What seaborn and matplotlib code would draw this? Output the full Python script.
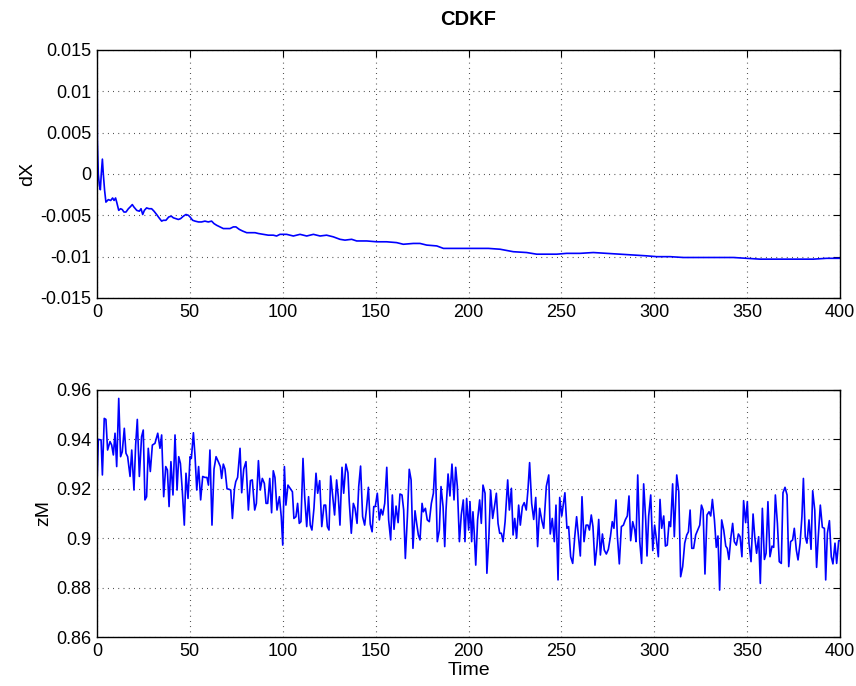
import numpy as np
import pandas as pd
import matplotlib
matplotlib.use("Agg")
import matplotlib.pyplot as plt
import seaborn as sns

# ---------------- data: dX (top) ----------------
dx_time_a = [0, 0.2, 0.7, 1.3, 1.8, 2.3, 2.9, 3.4, 4.1, 4.8,
             6.1, 7.4, 8.4, 9.2, 10.0, 10.6, 11.7, 12.7, 13.6, 14.5,
             15.6, 16.9, 17.8, 19.0, 19.9, 21.4, 22.8, 23.7, 24.6, 25.5,
             26.7, 28.0, 29.4, 30.7, 32.1, 33.4, 34.8, 35.7, 37.1, 38.6,
             40.0, 41.1, 42.5, 43.8, 45.0, 46.5, 47.9, 49.2, 50.1, 51.5,
             52.8, 54.6, 56.3, 58.1, 59.9, 61.7, 63.0, 64.4, 66.2, 68.0,
             69.8, 71.6, 73.4, 74.8, 76.6, 78.4, 80.6, 82.4, 85.1, 86.9,
             89.6, 92.2, 94.9, 96.7, 98.5]
dx_vals_a = [0.0144, 0.0041, 0.0, -0.0014, -0.0019, 0.0, 0.0018, 0.0, -0.0020, -0.0034,
             -0.0031, -0.0032, -0.0029, -0.0032, -0.0029, -0.0034, -0.0044, -0.0042, -0.0043, -0.0046,
             -0.0046, -0.0042, -0.0040, -0.0037, -0.0040, -0.0044, -0.0045, -0.0042, -0.0049, -0.0044,
             -0.0041, -0.0042, -0.0042, -0.0045, -0.0049, -0.0053, -0.0057, -0.0056, -0.0056, -0.0052,
             -0.0051, -0.0053, -0.0054, -0.0055, -0.0054, -0.0051, -0.0049, -0.0050, -0.0052, -0.0056,
             -0.0057, -0.0058, -0.0058, -0.0057, -0.0058, -0.0057, -0.0060, -0.0062, -0.0064, -0.0066,
             -0.0066, -0.0066, -0.0064, -0.0064, -0.0067, -0.0069, -0.0071, -0.0071, -0.0071, -0.0072,
             -0.0073, -0.0074, -0.0074, -0.0075, -0.0073]
dx_time_b = [102.1, 105.7, 109.3, 112.9, 116.5, 120.1, 123.6, 127.2, 130.8, 133.5,
             137.1, 139.8, 145.2, 150.6, 155.9, 161.3, 164.9, 170.3, 173.9, 177.5,
             182.9, 186.5, 191.8, 197.2, 201.7, 206.2, 210.7, 217.0, 224.1, 231.3,
             236.7, 242.1, 247.5, 252.8, 260.0, 267.2, 274.4, 281.6, 288.7, 295.9,
             301.3, 308.5, 315.7, 324.6, 333.6, 342.6, 349.8, 356.9, 364.1, 371.3,
             378.5, 385.7, 392.8, 400.0]
dx_vals_b = [-0.0073, -0.0075, -0.0073, -0.0075, -0.0073, -0.0075, -0.0074, -0.0076, -0.0079, -0.0080,
             -0.0079, -0.0081, -0.0081, -0.0082, -0.0082, -0.0083, -0.0085, -0.0084, -0.0084, -0.0086,
             -0.0087, -0.0090, -0.0090, -0.0090, -0.0090, -0.0090, -0.0090, -0.0091, -0.0094, -0.0095,
             -0.0097, -0.0097, -0.0097, -0.0096, -0.0096, -0.0095, -0.0096, -0.0097, -0.0098, -0.0099,
             -0.0100, -0.0100, -0.0101, -0.0101, -0.0101, -0.0101, -0.0102, -0.0103, -0.0103, -0.0103,
             -0.0103, -0.0103, -0.0102, -0.0102]

# ---------------- data: zM (bottom) ----------------
zm_t1 = [0, 0.7, 2.2, 2.9, 3.9, 4.8, 5.7, 7.0, 7.9, 8.8,
         9.7, 10.6, 11.7, 12.7, 13.6, 14.7, 15.6, 16.5, 17.8, 18.7,
         19.9, 20.8, 21.7, 22.8, 24.0, 24.9, 25.8, 26.7, 27.6, 28.7,
         29.8, 31.2, 32.7, 33.9, 34.8, 35.9, 37.0, 37.9, 38.8, 39.8,
         40.9, 42.0, 43.1, 44.0, 44.9, 45.9, 47.0, 47.9, 49.0, 50.1,
         50.8, 51.9]
zm_v1 = [0.9215, 0.940, 0.9398, 0.9256, 0.9485, 0.9481, 0.9357, 0.9391, 0.9377, 0.9337,
         0.9425, 0.929, 0.9566, 0.933, 0.935, 0.9445, 0.9344, 0.933, 0.925, 0.9357,
         0.9195, 0.9377, 0.9481, 0.925, 0.9411, 0.9438, 0.9155, 0.9168, 0.9364, 0.927,
         0.9377, 0.9384, 0.9425, 0.9364, 0.9418, 0.9168, 0.929, 0.9276, 0.9128, 0.931,
         0.9175, 0.9418, 0.9195, 0.933, 0.9303, 0.9195, 0.9053, 0.9263, 0.9161, 0.933,
         0.9323, 0.9427]
zm_t2 = [52.8, 53.7, 54.7, 55.8, 56.9, 58.1, 59.2, 60.0, 60.8, 61.9,
         63.0, 64.1, 65.3, 66.4, 67.1, 68.0, 68.9, 70.0, 71.1, 72.0,
         72.9, 74.0, 74.7, 75.7, 77.0, 77.9, 79.0, 80.2, 81.5, 82.6,
         83.6, 84.9, 85.8, 86.9, 87.9, 89.0, 90.1, 91.0, 91.9, 93.0,
         94.0, 94.9, 95.8, 96.9, 98.2, 99.2, 100.0, 100.9]
zm_v2 = [0.933, 0.9195, 0.929, 0.9155, 0.925, 0.9246, 0.9246, 0.9215, 0.9357, 0.9053,
         0.928, 0.933, 0.931, 0.929, 0.9242, 0.930, 0.928, 0.920, 0.9198, 0.9195,
         0.908, 0.920, 0.9229, 0.9246, 0.9364, 0.9184, 0.928, 0.931, 0.9114, 0.9233,
         0.9236, 0.9114, 0.9141, 0.9314, 0.9195, 0.9242, 0.9222, 0.9141, 0.9141, 0.9242,
         0.9103, 0.9273, 0.9246, 0.9114, 0.9168, 0.9087, 0.8972, 0.929]
zm_t3 = [101.7, 102.8, 104.1, 105.2, 106.0, 107.1, 108.0, 108.9, 109.8, 110.9,
         111.8, 112.9, 113.9, 114.8, 115.7, 116.8, 117.9, 118.8, 119.9, 121.0,
         122.2, 123.1, 124.0, 124.9, 125.8, 126.9, 127.9, 129.0, 129.9, 130.8,
         131.9, 132.8, 134.0, 135.1, 135.8, 136.9, 138.0, 138.9, 140.0, 140.9,
         141.9, 143.0, 144.1, 145.0, 146.1, 147.1, 148.1, 149.0, 149.8, 150.9]
zm_v3 = [0.9134, 0.9215, 0.920, 0.9188, 0.908, 0.9087, 0.9141, 0.906, 0.9067, 0.9323,
         0.9168, 0.9047, 0.9168, 0.9053, 0.9033, 0.9121, 0.9263, 0.9182, 0.9233, 0.9047,
         0.9134, 0.9134, 0.9047, 0.9033, 0.9252, 0.9168, 0.9094, 0.9236, 0.9168, 0.9053,
         0.9287, 0.9182, 0.930, 0.9265, 0.9148, 0.902, 0.9141, 0.9121, 0.906, 0.9209,
         0.9292, 0.9087, 0.9053, 0.9114, 0.9206, 0.9057, 0.9026, 0.9128, 0.9128, 0.9182]
zm_t4 = [152.0, 152.9, 153.8, 154.9, 156.0, 157.0, 158.1, 159.0, 159.9, 161.0,
         162.1, 163.1, 164.2, 165.1, 166.0, 167.1, 168.1, 169.1, 170.1, 171.2,
         172.1, 173.0, 173.9, 175.0, 175.7, 176.8, 177.8, 178.9, 180.0, 181.1,
         182.1, 183.2, 184.3, 185.2, 186.3, 187.2, 187.9, 189.0, 190.0, 191.1,
         192.2, 193.1, 194.0, 195.1, 196.1, 197.2, 198.1, 199.0, 200.1, 200.8]
zm_v4 = [0.9074, 0.9117, 0.9094, 0.9141, 0.9287, 0.9074, 0.8993, 0.9175, 0.9036, 0.913,
         0.9063, 0.9179, 0.9175, 0.9114, 0.8918, 0.9087, 0.9279, 0.9236, 0.8959, 0.9111,
         0.906, 0.9013, 0.8993, 0.9141, 0.9107, 0.9121, 0.9074, 0.9067, 0.9141, 0.9182,
         0.9323, 0.8986, 0.9033, 0.9209, 0.9128, 0.8966, 0.9114, 0.926, 0.9171, 0.930,
         0.9155, 0.9287, 0.9209, 0.8986, 0.9094, 0.9155, 0.8986, 0.9161, 0.9033, 0.9148]
zm_t5 = [201.7, 202.4, 203.1, 203.9, 204.9, 206.0, 206.9, 207.8, 208.9, 209.9,
         211.0, 211.9, 213.0, 214.1, 215.0, 215.9, 216.8, 217.7, 218.6, 219.7,
         221.1, 222.0, 223.1, 224.0, 224.9, 225.9, 227.0, 227.9, 229.0, 230.0,
         231.1, 232.0, 232.9, 234.0, 235.1, 236.2, 237.2, 238.3, 239.6, 240.5,
         241.9, 243.2, 244.0, 245.1, 246.2, 247.1, 248.2, 249.1, 250.2]
zm_v5 = [0.8986, 0.9107, 0.902, 0.8891, 0.9074, 0.9155, 0.906, 0.9215, 0.9182, 0.8858,
         0.9013, 0.9195, 0.908, 0.9134, 0.9182, 0.906, 0.902, 0.902, 0.8986, 0.9067,
         0.9236, 0.9114, 0.9202, 0.9013, 0.908, 0.9, 0.9134, 0.9053, 0.9128, 0.9144,
         0.9114, 0.9195, 0.9306, 0.9141, 0.9076, 0.9165, 0.8966, 0.9121, 0.9067, 0.904,
         0.921, 0.9256, 0.9017, 0.908, 0.8986, 0.9134, 0.8831, 0.9165, 0.909]
zm_t6 = [251.9, 253.0, 253.9, 255.0, 256.1, 257.2, 258.2, 259.3, 260.2, 261.1,
         262.2, 263.3, 264.3, 265.1, 266.1, 267.0, 268.1, 269.2, 270.1, 271.0,
         272.1, 273.1, 274.2, 275.3, 276.4, 277.4, 278.3, 279.4, 280.1, 281.2,
         282.3, 283.4, 284.4, 285.5, 286.4, 287.3, 288.4, 289.5, 290.2, 291.1,
         292.2, 293.2, 294.3, 295.4, 296.1, 297.0, 298.1, 299.2, 300.2]
zm_v6 = [0.9184, 0.904, 0.9047, 0.8925, 0.8898, 0.9006, 0.9087, 0.9, 0.8928, 0.9168,
         0.8986, 0.9053, 0.9053, 0.9033, 0.9094, 0.9047, 0.8891, 0.8972, 0.9076, 0.8932,
         0.9017, 0.8952, 0.8936, 0.8955, 0.9006, 0.9067, 0.904, 0.9155, 0.9013, 0.8896,
         0.9047, 0.9053, 0.9074, 0.909, 0.9171, 0.899, 0.9067, 0.9033, 0.8986, 0.9256,
         0.8986, 0.8898, 0.922, 0.9074, 0.8928, 0.909, 0.9175, 0.895, 0.9053]
zm_t7 = [301.1, 302.2, 303.1, 304.0, 305.1, 306.0, 307.0, 308.0, 308.8, 309.9,
         310.8, 312.1, 313.2, 314.2, 315.3, 316.4, 317.5, 318.4, 319.3, 320.2,
         321.2, 322.3, 323.4, 324.5, 325.4, 326.3, 327.3, 328.4, 329.5, 330.4,
         331.3, 332.4, 333.4, 334.3, 335.2, 336.3, 337.4, 338.5, 339.3, 340.2,
         341.3, 342.2, 343.1, 344.2, 345.3, 346.2, 347.2, 348.1, 349.2, 350.1,
         351.0]
zm_v7 = [0.9, 0.8925, 0.9157, 0.904, 0.909, 0.8968, 0.8972, 0.9067, 0.9047, 0.922,
         0.9006, 0.9256, 0.9188, 0.8844, 0.8885, 0.898, 0.9013, 0.9026, 0.9114, 0.8959,
         0.8959, 0.9013, 0.9033, 0.9053, 0.9134, 0.9114, 0.8855, 0.9094, 0.9107, 0.909,
         0.9157, 0.9074, 0.8963, 0.9009, 0.879, 0.9074, 0.9033, 0.8968, 0.8959, 0.8914,
         0.9006, 0.906, 0.8986, 0.8972, 0.9017, 0.9006, 0.8925, 0.9152, 0.9063, 0.9148,
         0.898]
zm_t8 = [352.1, 353.2, 354.1, 355.1, 356.2, 357.1, 358.2, 359.3, 360.2, 361.2,
         362.3, 363.4, 364.3, 365.2, 366.3, 367.3, 368.4, 369.3, 370.4, 371.5,
         372.4, 373.4, 374.5, 375.4, 376.5, 377.4, 378.5, 379.5, 380.3, 381.3,
         382.2, 383.3, 384.4, 385.3, 386.4, 387.4, 388.3, 389.4, 390.5, 391.6,
         392.3, 393.2, 394.3, 395.3, 396.2, 397.3, 398.2, 399.3, 400.0]
zm_v8 = [0.8905, 0.9098, 0.9006, 0.8939, 0.9006, 0.8817, 0.9121, 0.8914, 0.8939, 0.9148,
         0.8925, 0.8968, 0.8963, 0.9175, 0.906, 0.8905, 0.8898, 0.9184, 0.9206, 0.9175,
         0.8885, 0.8986, 0.8993, 0.904, 0.8952, 0.8912, 0.898, 0.9087, 0.9242, 0.9006,
         0.898, 0.9074, 0.8955, 0.9192, 0.9114, 0.8882, 0.9006, 0.9134, 0.9044, 0.904,
         0.8831, 0.902, 0.9071, 0.8925, 0.8896, 0.898, 0.8898, 0.899, 0.899]

x_ticks = [0, 50, 100, 150, 200, 250, 300, 350, 400]
dx_ticks = [0.015, 0.01, 0.005, 0, -0.005, -0.01, -0.015]
dx_ticklabels = ["0.015", "0.01", "0.005", "0", "-0.005", "-0.01", "-0.015"]
zm_ticks = [0.96, 0.94, 0.92, 0.9, 0.88, 0.86]
zm_ticklabels = ["0.96", "0.94", "0.92", "0.9", "0.88", "0.86"]

dx_df = pd.DataFrame({"Time": dx_time_a + dx_time_b, "dX": dx_vals_a + dx_vals_b})
zm_t = zm_t1 + zm_t2 + zm_t3 + zm_t4 + zm_t5 + zm_t6 + zm_t7 + zm_t8
zm_v = zm_v1 + zm_v2 + zm_v3 + zm_v4 + zm_v5 + zm_v6 + zm_v7 + zm_v8
zm_df = pd.DataFrame({"Time": zm_t, "zM": zm_v})

# ---------------- style ----------------
sns.set_style("white")
plt.rcParams["font.family"] = ["Liberation Sans", "DejaVu Sans"]
plt.rcParams["font.size"] = 13
plt.rcParams["text.color"] = "black"
plt.rcParams["axes.labelcolor"] = "black"
plt.rcParams["xtick.color"] = "black"
plt.rcParams["ytick.color"] = "black"

fig = plt.figure(figsize=(8.56, 6.86), dpi=100)
W, H = 856.0, 686.0
ax1 = fig.add_axes([97 / W, 1 - 298 / H, 743 / W, 248 / H])
ax2 = fig.add_axes([97 / W, 1 - 637 / H, 743 / W, 247 / H])

sns.lineplot(data=dx_df, x="Time", y="dX", ax=ax1, color=(0, 0, 1),
             linewidth=1.2, estimator=None, sort=False)
sns.lineplot(data=zm_df, x="Time", y="zM", ax=ax2, color=(0, 0, 1),
             linewidth=1.2, estimator=None, sort=False)

def style(ax, yticks, ylabels, ylim):
    ax.set_xlim(0, 400)
    ax.set_ylim(*ylim)
    ax.set_xticks(x_ticks)
    ax.set_xticklabels([str(v) for v in x_ticks])
    ax.set_yticks(yticks)
    ax.set_yticklabels(ylabels)
    ax.grid(True, color="#222222", linestyle=(0, (0.7, 4.0)), linewidth=0.8)
    ax.tick_params(direction="in", top=True, right=True, length=5, width=0.8,
                   labelsize=13, colors="black", pad=4)
    for s in ax.spines.values():
        s.set_visible(True)
        s.set_color("black")
        s.set_linewidth(1.0)
    ax.set_facecolor("white")

style(ax1, dx_ticks, dx_ticklabels, (-0.015, 0.015))
style(ax2, zm_ticks, zm_ticklabels, (0.86, 0.96))

ax1.set_xlabel("")
ax1.set_ylabel("dX", fontsize=14, labelpad=3, color="black")
ax2.set_ylabel("zM", fontsize=14, labelpad=3, color="black")
ax2.set_xlabel("Time", fontsize=14, labelpad=2, color="black")
ax1.set_title("CDKF", fontsize=14.5, fontweight="bold", pad=18, color="black")

fig.savefig("out.png", dpi=100, facecolor="white")
